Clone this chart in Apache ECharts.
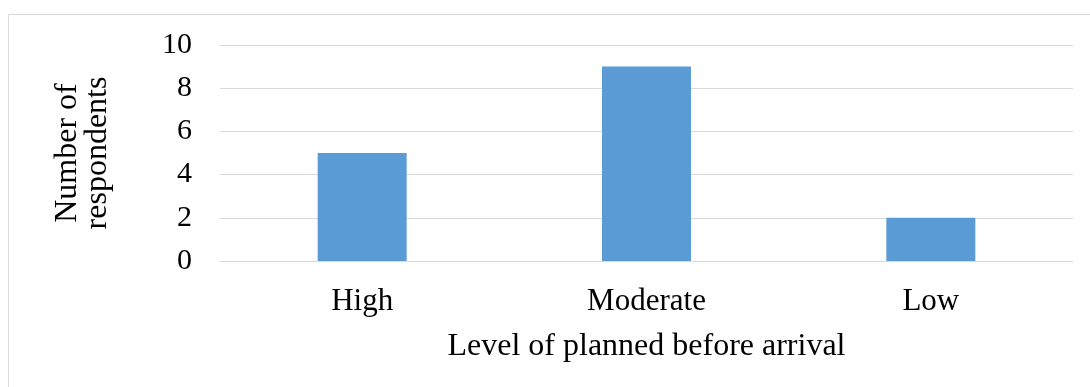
<!DOCTYPE html>
<html>
<head>
<meta charset="utf-8">
<script src="https://cdn.jsdelivr.net/npm/echarts@6/dist/echarts.min.js"></script>
<style>
  html, body { margin: 0; padding: 0; background: #fff; }
  #chart { width: 1090px; height: 387px; }
</style>
</head>
<body>
<div id="chart"></div>
<script>
// Planning level reported by respondents
const categories = ['High', 'Moderate', 'Low'];
const respondents = [5, 9, 2];
const yTicks = { min: 0, max: 10, interval: 2 };

const serif = "'Liberation Serif', 'Times New Roman', serif";

const chart = echarts.init(document.getElementById('chart'), null, { renderer: 'canvas' });
chart.setOption({
  animation: false,
  backgroundColor: '#ffffff',
  graphic: [{
    type: 'rect',
    silent: true,
    shape: { x: 8.5, y: 14.5, width: 1100, height: 400 },
    style: { fill: 'none', stroke: '#d9d9d9', lineWidth: 1 }
  }],
  grid: { left: 220, right: 17, top: 45, bottom: 126 },
  xAxis: {
    type: 'category',
    data: categories,
    name: 'Level of planned before arrival',
    nameLocation: 'middle',
    nameGap: 70,
    nameTextStyle: { fontFamily: serif, fontSize: 32, color: '#000' },
    axisLine: { lineStyle: { color: '#d9d9d9', width: 1 } },
    axisTick: { show: false },
    axisLabel: { fontFamily: serif, fontSize: 31, color: '#000', margin: 25 }
  },
  yAxis: {
    type: 'value',
    min: yTicks.min,
    max: yTicks.max,
    interval: yTicks.interval,
    name: 'Number of\nrespondents',
    nameLocation: 'middle',
    nameGap: 107,
    nameTextStyle: { fontFamily: serif, fontSize: 32, color: '#000', lineHeight: 30 },
    axisLine: { show: false },
    axisTick: { show: false },
    splitLine: { lineStyle: { color: '#d9d9d9', width: 1 } },
    axisLabel: { fontFamily: serif, fontSize: 30, color: '#000', margin: 28 }
  },
  series: [{
    type: 'bar',
    data: respondents,
    barWidth: 89,
    itemStyle: { color: '#5b9bd5' }
  }]
});
</script>
</body>
</html>
